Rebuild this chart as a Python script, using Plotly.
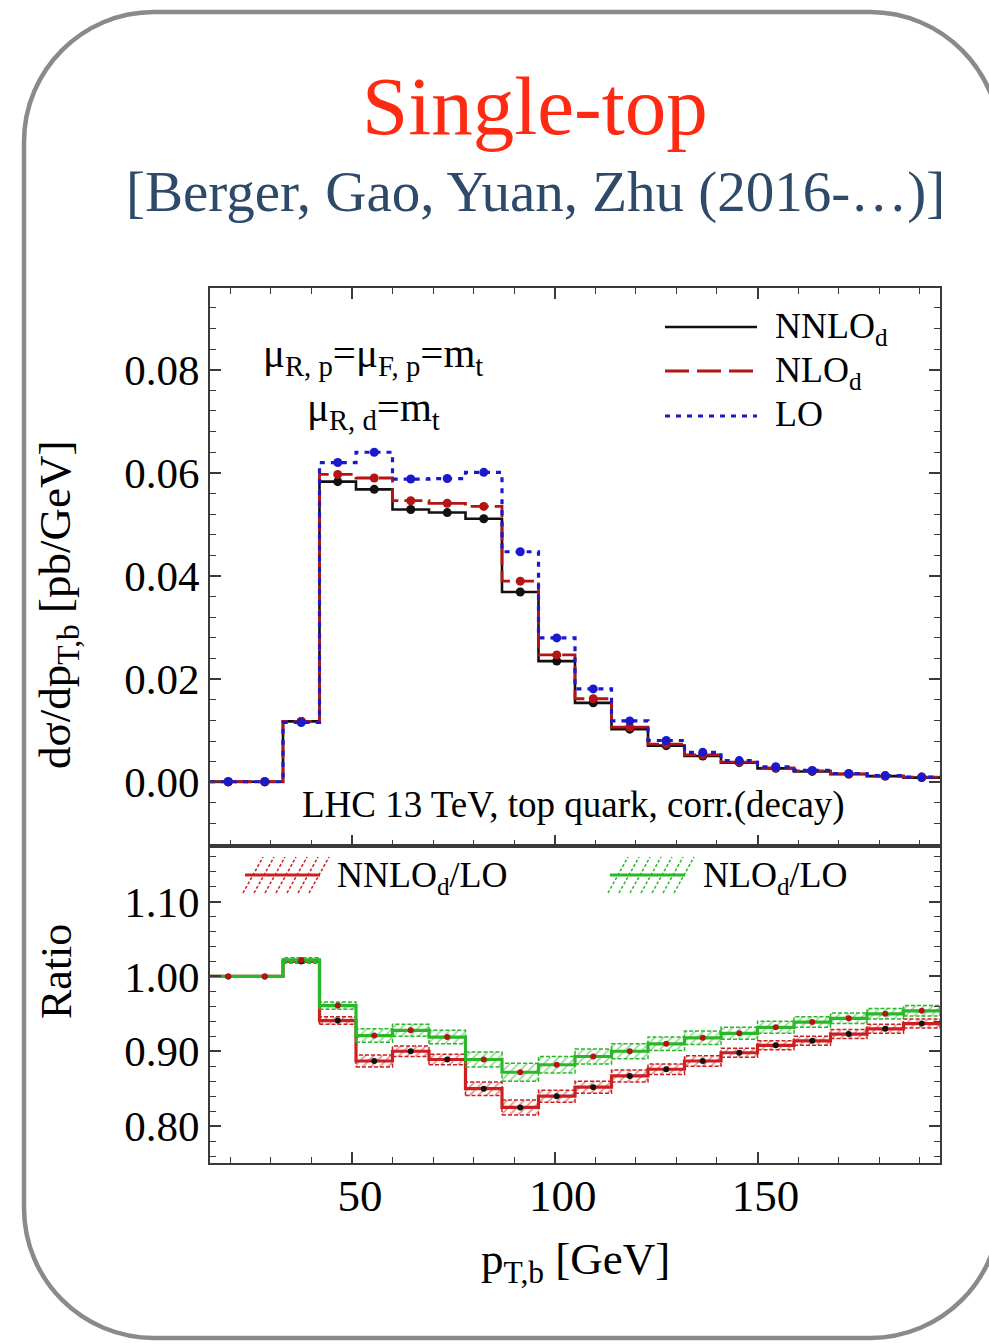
import plotly.graph_objects as go

W, H = 989, 1344

# ---- data -------------------------------------------------------------
pt_edges = [15, 24, 33, 42, 51, 60, 69, 78, 87, 96, 105, 114, 123, 132,
            141, 150, 159, 168, 177, 186, 195]

lo = [0.0001, 0.0001, 0.0116, 0.0620, 0.0640, 0.0588, 0.0589, 0.0601,
      0.0447, 0.0280, 0.0181, 0.0119, 0.0081, 0.0058, 0.0042, 0.0030,
      0.0023, 0.0017, 0.0013, 0.0010]
nlo_d = [0.0001, 0.0001, 0.0118, 0.0597, 0.0590, 0.0546, 0.0541, 0.0535,
         0.0390, 0.0247, 0.0162, 0.0107, 0.0074, 0.0053, 0.0039, 0.0028,
         0.0022, 0.0016, 0.0012, 0.0010]
nnlo_d = [0.0001, 0.0001, 0.0118, 0.0583, 0.0568, 0.0529, 0.0523, 0.0511,
          0.0369, 0.0235, 0.0154, 0.0103, 0.0071, 0.0051, 0.0038, 0.0027,
          0.0021, 0.0016, 0.0012, 0.0009]

ratio_nnlo = [1.000, 1.000, 1.020, 0.941, 0.887, 0.900, 0.889, 0.850, 0.825,
              0.840, 0.852, 0.867, 0.876, 0.887, 0.898, 0.908, 0.914, 0.923,
              0.930, 0.937]
ratio_nlo = [1.000, 1.000, 1.022, 0.961, 0.921, 0.928, 0.919, 0.889, 0.872,
             0.882, 0.893, 0.900, 0.910, 0.918, 0.924, 0.932, 0.939, 0.944,
             0.950, 0.954]
unc_nnlo = [0.000, 0.000, 0.002, 0.005, 0.008, 0.007, 0.007, 0.009, 0.010,
            0.008, 0.008, 0.008, 0.007, 0.007, 0.006, 0.006, 0.006, 0.006,
            0.006, 0.006]
unc_nlo = [0.000, 0.000, 0.003, 0.005, 0.009, 0.008, 0.009, 0.010, 0.012,
           0.011, 0.010, 0.010, 0.009, 0.009, 0.008, 0.008, 0.007, 0.007,
           0.007, 0.007]

y_ticks_top = [0.00, 0.02, 0.04, 0.06, 0.08]
y_ticks_ratio = [0.80, 0.90, 1.00, 1.10]
x_ticks = [50, 100, 150]

# ---- styling ----------------------------------------------------------
SERIF = "Liberation Serif, Times New Roman, serif"
C_NNLO = "#111111"
C_NLO = "#b51414"
C_LO = "#1a1acc"
C_RED = "#cc2020"
C_GREEN = "#2ab82a"
FRAME = "#3a3a3a"


def px(x):
    return x / W


def py(y):
    return 1 - y / H


centers = [(a + b) / 2 for a, b in zip(pt_edges[:-1], pt_edges[1:])]


def step(vals):
    return pt_edges, list(vals) + [vals[-1]]


def boxes(ratio, unc):
    xs, ys = [], []
    for i, (r, u) in enumerate(zip(ratio, unc)):
        x0, x1 = pt_edges[i], pt_edges[i + 1]
        xs += [x0, x1, x1, x0, x0, None]
        ys += [r - u, r - u, r + u, r + u, r - u, None]
    return xs, ys


fig = go.Figure()

# ---- upper panel: distributions ----------------------------------------
for vals, color, dash, width in [(nnlo_d, C_NNLO, "solid", 2.6),
                                  (nlo_d, C_NLO, "18px,6px", 2.8),
                                  (lo, C_LO, "5px,6px", 3.2)]:
    sx, sy = step(vals)
    fig.add_trace(go.Scatter(x=sx, y=sy, mode="lines", line_shape="hv",
                             line=dict(color=color, dash=dash, width=width),
                             xaxis="x", yaxis="y", hoverinfo="skip"))
for vals, color in [(nnlo_d, C_NNLO), (nlo_d, C_NLO), (lo, C_LO)]:
    fig.add_trace(go.Scatter(x=centers, y=vals, mode="markers",
                             marker=dict(color=color, size=9),
                             xaxis="x", yaxis="y"))

# ---- lower panel: ratios with scale bands ------------------------------
for ratio, unc, color in [(ratio_nnlo, unc_nnlo, C_RED),
                          (ratio_nlo, unc_nlo, C_GREEN)]:
    bx, by = boxes(ratio, unc)
    fig.add_trace(go.Scatter(
        x=bx, y=by, mode="lines", fill="toself",
        fillcolor="rgba(0,0,0,0)",
        fillpattern=dict(shape="/", fgcolor=color, bgcolor="rgba(255,255,255,0)",
                         size=6, solidity=0.3),
        line=dict(color=color, width=1.5, dash="4px,2px"),
        xaxis="x2", yaxis="y2", hoverinfo="skip"))
    sx, sy = step(ratio)
    fig.add_trace(go.Scatter(x=sx, y=sy, mode="lines", line_shape="hv",
                             line=dict(color=color, width=3.2),
                             xaxis="x2", yaxis="y2", hoverinfo="skip"))
for ratio, dot_color in [(ratio_nnlo, "#111111"), (ratio_nlo, "#b51414")]:
    fig.add_trace(go.Scatter(x=centers, y=ratio, mode="markers",
                             marker=dict(color=dot_color, size=6),
                             xaxis="x2", yaxis="y2"))

# ---- axes -------------------------------------------------------------
x_dom = [px(210), px(940)]
common = dict(showgrid=False, zeroline=False, showline=True, linecolor=FRAME,
              linewidth=2, ticks="inside", ticklen=11, tickwidth=1.6,
              tickcolor=FRAME,
              tickfont=dict(family=SERIF, size=43, color="black"))

fig.update_layout(
    width=W, height=H, margin=dict(l=0, r=0, t=0, b=0),
    paper_bgcolor="white", plot_bgcolor="white", showlegend=False,
    xaxis=dict(domain=x_dom, range=[15, 195], anchor="y", tick0=0, dtick=50,
               showticklabels=False, mirror="allticks",
               minor=dict(dtick=10, tick0=0, ticks="inside", ticklen=6,
                          tickwidth=1.4, tickcolor=FRAME), **common),
    yaxis=dict(domain=[py(846), py(288)], range=[-0.01236, 0.09585],
               anchor="x", tickvals=y_ticks_top, tickformat=".2f",
               mirror="allticks", ticklabelstandoff=0,
               minor=dict(dtick=0.004, tick0=0, ticks="inside", ticklen=6,
                          tickwidth=1.4, tickcolor=FRAME), **common),
    xaxis2=dict(domain=x_dom, range=[15, 195], anchor="y2", tickvals=x_ticks,
                mirror=True, ticklabelstandoff=-8, ticklabelshift=8,
                minor=dict(dtick=10, tick0=0, ticks="inside", ticklen=6,
                           tickwidth=1.4, tickcolor=FRAME), **common),
    yaxis2=dict(domain=[py(1163), py(846)], range=[0.7507, 1.1743],
                anchor="x2", tickvals=y_ticks_ratio, tickformat=".2f",
                mirror="allticks", ticklabelstandoff=0,
                minor=dict(dtick=0.02, tick0=0, ticks="inside", ticklen=6,
                           tickwidth=1.4, tickcolor=FRAME), **common),
)
fig.update_layout(xaxis2_tickfont_size=45)

# ---- slide frame (rounded rectangle) -----------------------------------
L, T, R, B, rad = 24, 12, 1000, 1338, 130
k = 0.5523 * rad


def P(x, y):
    return f"{px(x):.5f},{py(y):.5f}"


frame_path = (
    f"M {P(L + rad, T)} L {P(R - rad, T)} "
    f"C {P(R - rad + k, T)} {P(R, T + rad - k)} {P(R, T + rad)} "
    f"L {P(R, B - rad)} "
    f"C {P(R, B - rad + k)} {P(R - rad + k, B)} {P(R - rad, B)} "
    f"L {P(L + rad, B)} "
    f"C {P(L + rad - k, B)} {P(L, B - rad + k)} {P(L, B - rad)} "
    f"L {P(L, T + rad)} "
    f"C {P(L, T + rad - k)} {P(L + rad - k, T)} {P(L + rad, T)} Z"
)
shapes = [dict(type="path", xref="paper", yref="paper", path=frame_path,
               line=dict(color="#8a8a8a", width=4.5), layer="below")]

# legend samples, upper panel
for yy, color, dash, width in [(327, C_NNLO, "solid", 2.6),
                               (371, C_NLO, "24px,8px", 2.8),
                               (416, C_LO, "5px,6px", 3.2)]:
    shapes.append(dict(type="line", xref="paper", yref="paper",
                       x0=px(665), x1=px(757), y0=py(yy), y1=py(yy),
                       line=dict(color=color, dash=dash, width=width)))

# hatched legend samples, lower panel
for x0, color in [(245, C_RED), (610, C_GREEN)]:
    yc = 875
    shapes.append(dict(type="line", xref="paper", yref="paper",
                       x0=px(x0), x1=px(x0 + 75), y0=py(yc), y1=py(yc),
                       line=dict(color=color, width=3)))
    for j in range(7):
        hx = x0 - 2 + j * 11
        shapes.append(dict(type="line", xref="paper", yref="paper",
                           x0=px(hx), x1=px(hx + 20), y0=py(yc + 18),
                           y1=py(yc - 18),
                           line=dict(color=color, width=1.5, dash="3px,2px")))
fig.update_layout(shapes=shapes)

# ---- texts ------------------------------------------------------------
def note(x, y, text, size, color="black", xanchor="center", angle=0):
    fig.add_annotation(x=px(x), y=py(y), xref="paper", yref="paper",
                       text=text, showarrow=False, xanchor=xanchor,
                       yanchor="middle", textangle=angle,
                       font=dict(family=SERIF, size=size, color=color))


note(535, 106, "Single-top", 83, color="#ff2a12")
note(535, 192, "[Berger, Gao, Yuan, Zhu (2016-…)]", 57, color="#2e4a6b")

note(373, 356, "μ<sub>R, p</sub>=μ<sub>F, p</sub>=m<sub>t</sub>", 41)
note(373, 410, "μ<sub>R, d</sub>=m<sub>t</sub>", 41)
note(573, 805, "LHC 13 TeV, top quark, corr.(decay)", 37)

note(773, 329, "NNLO<sub>d</sub>", 36, xanchor="left")
note(773, 373, "NLO<sub>d</sub>", 36, xanchor="left")
note(773, 414, "LO", 36, xanchor="left")

note(335, 877, "NNLO<sub>d</sub>/LO", 36, xanchor="left")
note(701, 877, "NLO<sub>d</sub>/LO", 36, xanchor="left")

note(575, 1262, "p<sub>T,b</sub> [GeV]", 45)
note(58, 605, "dσ/dp<sub>T,b</sub> [pb/GeV]", 45, angle=-90)
note(56, 972, "Ratio", 44, angle=-90)

fig.write_html("out.html")
